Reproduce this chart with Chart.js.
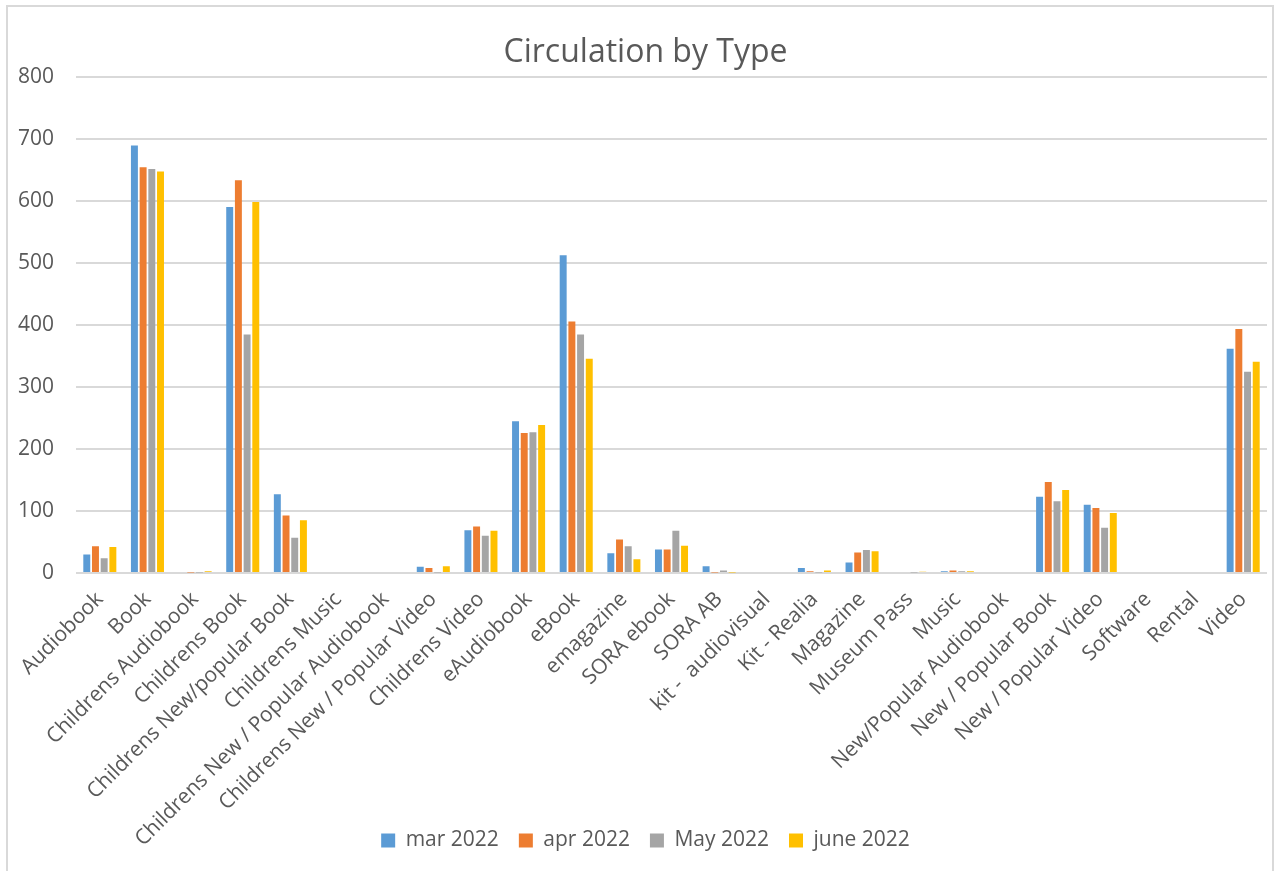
<!DOCTYPE html>
<html>
<head>
<meta charset="utf-8">
<script src="https://cdn.jsdelivr.net/npm/chart.js@4.4.1/dist/chart.umd.min.js"></script>
<style>
  html, body { margin: 0; padding: 0; background: #fff; }
  #wrap { position: relative; width: 1278px; height: 871px; overflow: hidden; }
  #frame { position: absolute; left: 6px; top: 5px; width: 1264px; height: 880px; border: 2px solid #d9d9d9; }
  canvas { position: absolute; left: 0; top: 0; }
</style>
</head>
<body>
<div id="wrap">
  <div id="frame"></div>
  <canvas id="myChart" width="1278" height="871"></canvas>
</div>
<script>
var categories = ['Audiobook', 'Book', 'Childrens Audiobook', 'Childrens Book', 'Childrens New/popular Book',
    'Childrens Music', 'Childrens New / Popular Audiobook', 'Childrens New / Popular Video', 'Childrens Video',
    'eAudiobook', 'eBook', 'emagazine', 'SORA ebook', 'SORA AB', 'kit -  audiovisual', 'Kit - Realia',
    'Magazine', 'Museum Pass', 'Music', 'New/Popular Audiobook', 'New / Popular Book', 'New / Popular Video',
    'Software', 'Rental', 'Video']

var mar2022 = [30, 690, 0, 591, 127, 0, 0, 10, 69, 245, 513, 32, 38, 11, 0, 8, 17, 0, 3, 0, 123, 110, 0, 0, 362]
var apr2022 = [43, 655, 1, 634, 93, 0, 0, 8, 75, 226, 406, 54, 38, 1, 0, 3, 33, 0, 4, 0, 147, 105, 0, 0, 394]
var may2022 = [24, 652, 1, 385, 57, 0, 0, 1, 60, 227, 385, 43, 68, 4, 0, 1, 37, 1, 3, 0, 116, 73, 0, 0, 325]
var june2022 = [42, 648, 3, 599, 85, 0, 0, 11, 68, 239, 346, 22, 44, 1, 0, 4, 35, 2, 3, 0, 134, 97, 0, 0, 341]

var yTicks = [0, 100, 200, 300, 400, 500, 600, 700, 800]

var textColor = '#595959'
var fontFamily = '"Open Sans", "Noto Sans", sans-serif'

// don't clip tick labels to the axis box (they overhang like in the original)
function noLabelClip(scale) {
    scale._computeLabelArea = function() { return undefined }
}

function series(label, data, color) {
    return {
        label: label,
        data: data,
        backgroundColor: color,
        borderWidth: 0,
        categoryPercentage: 0.73,
        barPercentage: 0.8
    }
}

var ctx = document.getElementById("myChart").getContext('2d');
var myChart = new Chart(ctx, {
    type: 'bar',
    data: {
        labels: categories,
        datasets: [
            series('mar 2022', mar2022, '#5B9BD5'),
            series('apr 2022', apr2022, '#ED7D31'),
            series('May 2022', may2022, '#A5A5A5'),
            series('june 2022', june2022, '#FFC000')
        ]
    },
    options: {
        responsive: false,
        animation: false,
        layout: { padding: { left: 24, right: 11, top: 0, bottom: 10 } },
        plugins: {
            title: {
                display: true,
                text: 'Circulation by Type',
                color: textColor,
                font: { family: fontFamily, size: 32, weight: 'normal' },
                padding: { top: 34, bottom: 5 }
            },
            legend: {
                position: 'bottom',
                labels: {
                    color: textColor,
                    font: { family: fontFamily, size: 21 },
                    boxWidth: 14,
                    boxHeight: 14,
                    padding: 20
                }
            },
            tooltip: { enabled: false }
        },
        scales: {
            x: {
                grid: { display: false },
                border: { display: false },
                ticks: {
                    color: textColor,
                    font: { family: fontFamily, size: 21 },
                    maxRotation: 45,
                    minRotation: 45,
                    autoSkip: false,
                    padding: 6
                },
                afterFit: function(scale) {
                    scale.height = 237
                    noLabelClip(scale)
                }
            },
            y: {
                min: 0,
                max: 800,
                afterBuildTicks: function(scale) {
                    scale.ticks = yTicks.map(function(v) { return { value: v } })
                },
                grid: { color: '#d9d9d9', lineWidth: 2, drawTicks: false },
                border: { display: false },
                ticks: {
                    color: textColor,
                    font: { family: fontFamily, size: 21 },
                    padding: 22
                },
                afterFit: function(scale) {
                    scale.width = 52
                    noLabelClip(scale)
                }
            }
        }
    }
})
</script>
</body>
</html>
